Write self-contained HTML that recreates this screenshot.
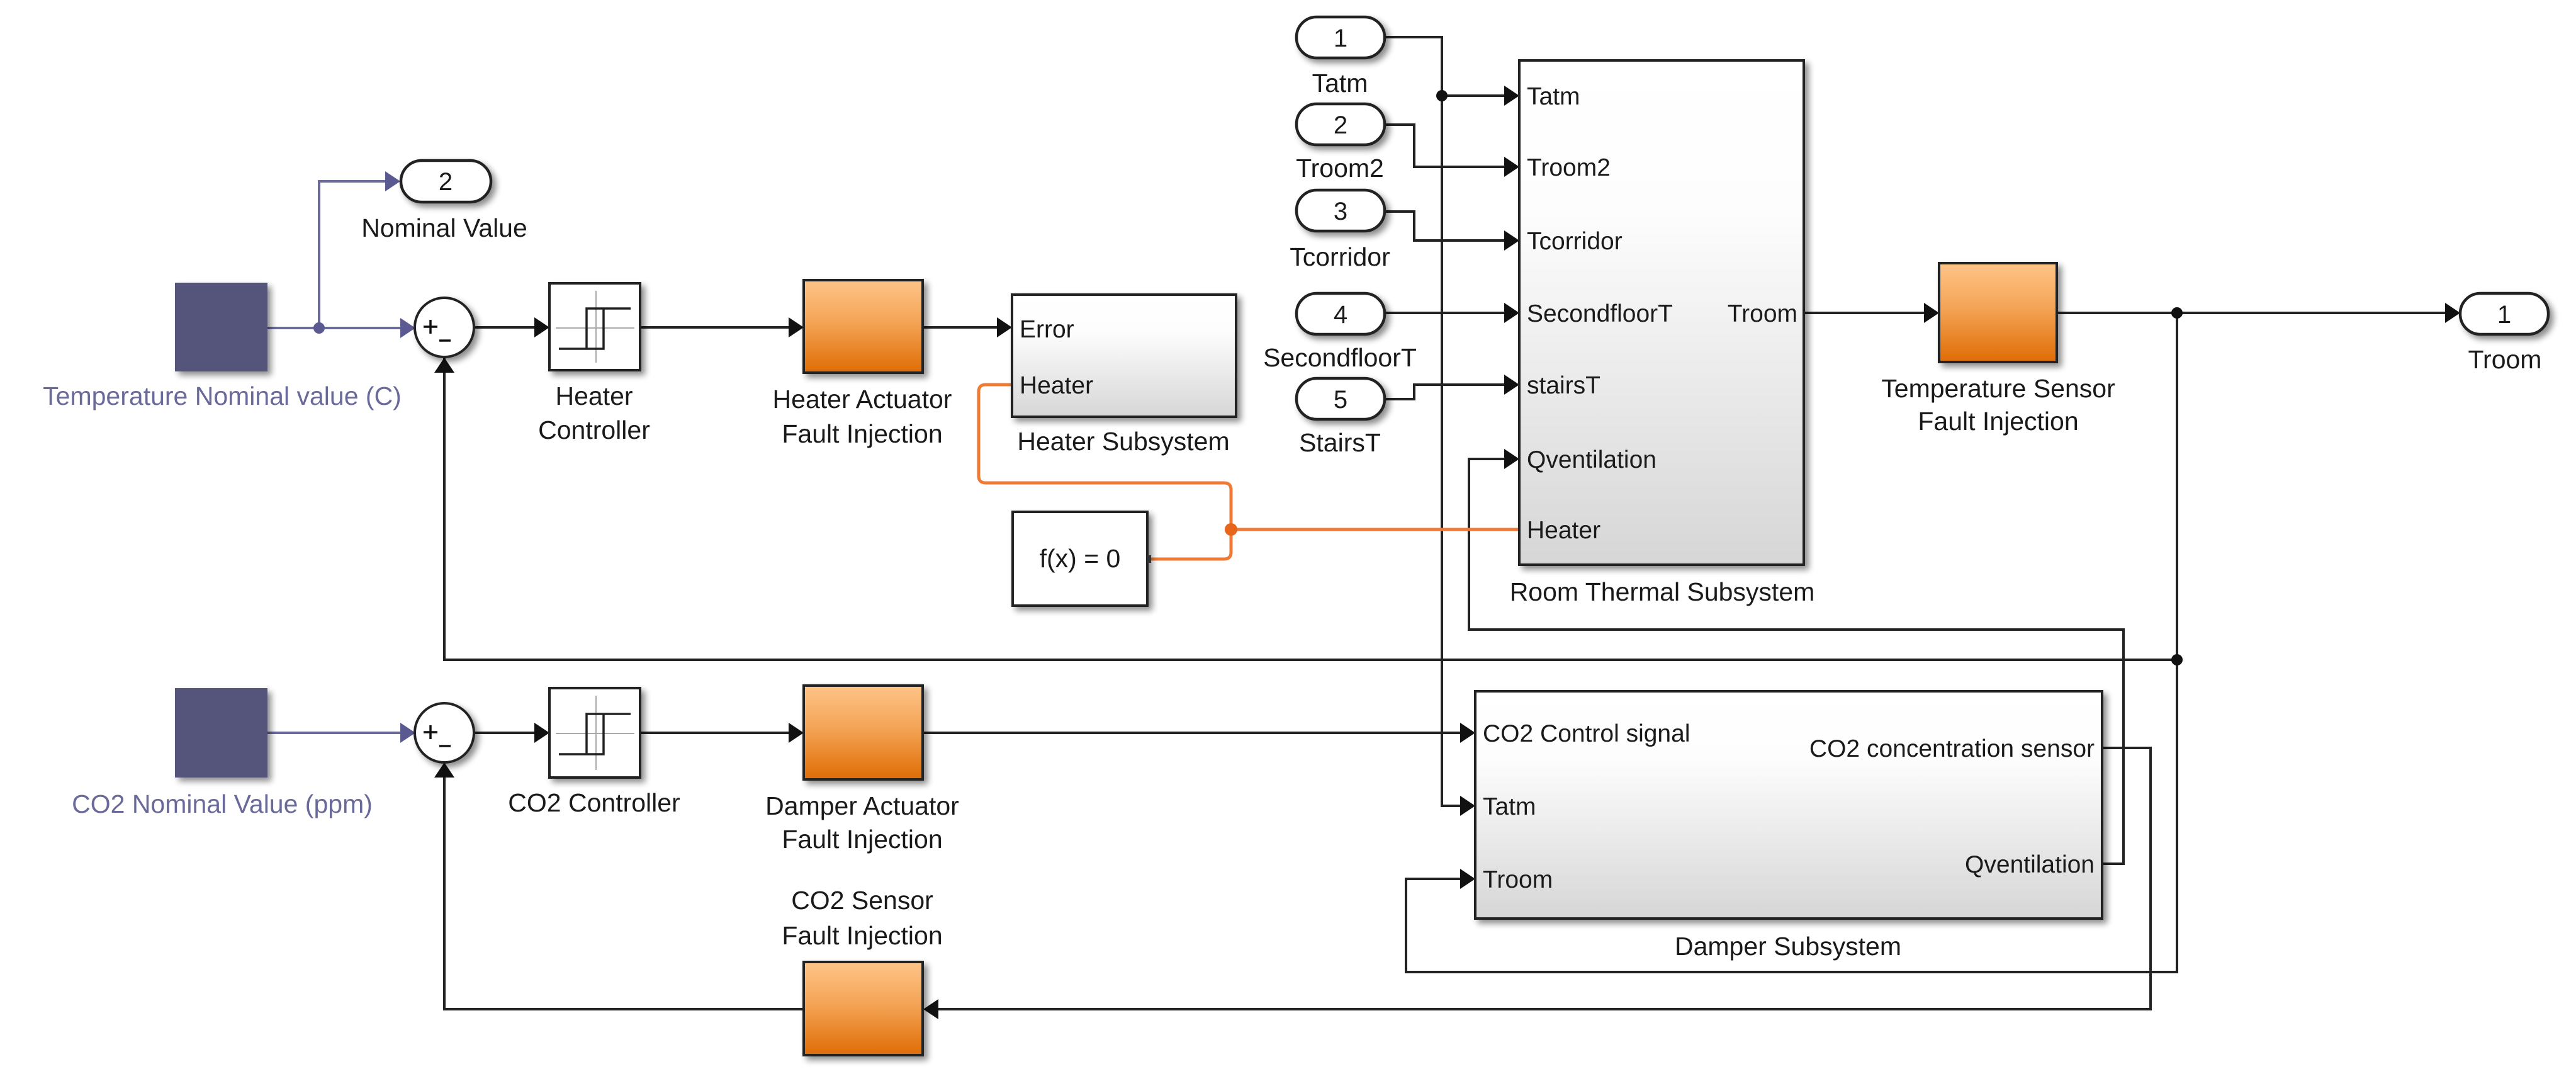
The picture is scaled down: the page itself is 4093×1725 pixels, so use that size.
<!DOCTYPE html>
<html><head><meta charset="utf-8"><style>
html,body{margin:0;padding:0;background:#fff;}
svg{display:block;}
text{font-family:"Liberation Sans",sans-serif;fill:#1a1a1a;}
</style></head><body>
<svg width="4093" height="1725" viewBox="0 0 4093 1725" xmlns="http://www.w3.org/2000/svg">
<defs>
<linearGradient id="og" x1="0" y1="0" x2="0" y2="1"><stop offset="0" stop-color="#fec488"/><stop offset="0.45" stop-color="#f4a456"/><stop offset="1" stop-color="#df6c05"/></linearGradient>
<linearGradient id="sg" x1="0" y1="0" x2="0" y2="1"><stop offset="0" stop-color="#ffffff"/><stop offset="0.3" stop-color="#fdfdfd"/><stop offset="1" stop-color="#d6d6d6"/></linearGradient>
<filter id="sh" x="-10%" y="-10%" width="130%" height="130%"><feGaussianBlur in="SourceAlpha" stdDeviation="5"/><feOffset dx="6" dy="6"/><feComponentTransfer><feFuncA type="linear" slope="0.45"/></feComponentTransfer><feMerge><feMergeNode/><feMergeNode in="SourceGraphic"/></feMerge></filter>
</defs>

<g stroke="#6b6b9b" stroke-width="4" fill="none">
<path d="M425 521 H640"/>
<path d="M507 521 V288 H615"/>
<path d="M425 1164 H640"/>
</g>
<g fill="#5a5a90">
<circle cx="507" cy="521" r="9"/>
<polygon points="636,288 612,272 612,304"/>
<polygon points="660,521 636,505 636,537"/>
<polygon points="660,1164 636,1148 636,1180"/>
</g>

<g stroke="#222" stroke-width="4" fill="none">
<path d="M755 520 H852"/>
<path d="M1017 520 H1256"/>
<path d="M1466 520 H1588"/>
<path d="M706 568 V1048 H3459"/>
<path d="M755 1164 H852"/>
<path d="M1017 1164 H1256"/>
<path d="M1466 1164 H2322"/>
<path d="M1277 1603 H706 V1230"/>
<path d="M2200 59 H2291 V1280 H2322"/>
<path d="M2291 152 H2392"/>
<path d="M2200 198 H2247 V265 H2392"/>
<path d="M2200 336 H2247 V382 H2392"/>
<path d="M2200 497 H2392"/>
<path d="M2200 634 H2247 V611 H2392"/>
<path d="M2868 497 H3060"/>
<path d="M3268 497 H3888"/>
<path d="M3459 497 V1544 H2234 V1396 H2322"/>
<path d="M3342 1372 H3374 V1000 H2334 V729 H2392"/>
<path d="M3342 1188 H3417 V1603 H1490"/>
</g>
<g fill="#111">
<circle cx="2291" cy="152" r="9"/>
<circle cx="3459" cy="497" r="9"/>
<circle cx="3459" cy="1048" r="9"/>
<polygon points="873,520 849,504 849,536"/>
<polygon points="1277,520 1253,504 1253,536"/>
<polygon points="1608,520 1584,504 1584,536"/>
<polygon points="706,568 690,592 722,592"/>
<polygon points="873,1164 849,1148 849,1180"/>
<polygon points="1277,1164 1253,1148 1253,1180"/>
<polygon points="706,1211 690,1235 722,1235"/>
<polygon points="1467,1603 1491,1587 1491,1619"/>
<polygon points="2414,152 2390,136 2390,168"/>
<polygon points="2414,265 2390,249 2390,281"/>
<polygon points="2414,382 2390,366 2390,398"/>
<polygon points="2414,497 2390,481 2390,513"/>
<polygon points="2414,611 2390,595 2390,627"/>
<polygon points="2414,729 2390,713 2390,745"/>
<polygon points="3081,497 3057,481 3057,513"/>
<polygon points="3909,497 3885,481 3885,513"/>
<polygon points="2344,1164 2320,1148 2320,1180"/>
<polygon points="2344,1280 2320,1264 2320,1296"/>
<polygon points="2344,1396 2320,1380 2320,1412"/>
</g>

<g stroke="#ee7a35" stroke-width="5" fill="none">
<path d="M1608 611 H1566 Q1555 611 1555 622 V756 Q1555 767 1566 767 H1945 Q1956 767 1956 778 V877 Q1956 888 1945 888 H1825"/>
<path d="M1956 841 H2414"/>
</g>
<circle cx="1956" cy="841" r="10" fill="#e8661c"/>

<rect x="278" y="449" width="147" height="141" fill="#54547c" filter="url(#sh)"/>
<rect x="278" y="1093" width="147" height="142" fill="#54547c" filter="url(#sh)"/>

<g filter="url(#sh)" stroke="#222" stroke-width="4">
<circle cx="706" cy="520" r="47" fill="#fff"/>
<circle cx="706" cy="1164" r="47" fill="#fff"/>
<rect x="873" y="450" width="144" height="138" fill="#fff"/>
<rect x="873" y="1093" width="144" height="142" fill="#fff"/>
<rect x="1277" y="445" width="189" height="147" fill="url(#og)"/>
<rect x="1277" y="1089" width="189" height="149" fill="url(#og)"/>
<rect x="1277" y="1528" width="189" height="148" fill="url(#og)"/>
<rect x="3081" y="418" width="187" height="157" fill="url(#og)"/>
<rect x="1608" y="468" width="356" height="194" fill="url(#sg)"/>
<rect x="1609" y="813" width="214" height="149" fill="#fff"/>
<rect x="2414" y="96" width="452" height="801" fill="url(#sg)"/>
<rect x="2344" y="1098" width="996" height="361" fill="url(#sg)"/>
</g>
<rect x="1823" y="882" width="6" height="12" fill="#333"/>

<g stroke="#111" stroke-width="3.5">
<path d="M673 519 H695 M684 508 V530"/>
<path d="M698 541 H716"/>
<path d="M673 1163 H695 M684 1152 V1174"/>
<path d="M698 1185 H716"/>
</g>

<g stroke="#aaa" stroke-width="2">
<path d="M947 462 V576 M883 521 H1008"/>
<path d="M947 1105 V1223 M883 1165 H1008"/>
</g>
<g stroke="#222" stroke-width="3.5" fill="none">
<path d="M888 554 H959 V490 H1002 M932 554 V490 H959"/>
<path d="M888 1198 H959 V1134 H1002 M932 1198 V1134 H959"/>
</g>

<g stroke="#222" stroke-width="4.5" fill="#fff" filter="url(#sh)">
<rect x="637" y="255" width="143" height="66" rx="33"/>
<rect x="2060" y="27" width="140" height="65" rx="32"/>
<rect x="2060" y="165" width="140" height="65" rx="32"/>
<rect x="2060" y="302" width="140" height="65" rx="32"/>
<rect x="2060" y="466" width="140" height="65" rx="32"/>
<rect x="2060" y="601" width="140" height="65" rx="32"/>
<rect x="3909" y="466" width="140" height="65" rx="32"/>
</g>
<g font-size="40" text-anchor="middle">
<text x="708" y="302">2</text>
<text x="2130" y="74">1</text>
<text x="2130" y="212">2</text>
<text x="2130" y="349">3</text>
<text x="2130" y="513">4</text>
<text x="2130" y="648">5</text>
<text x="3979" y="513">1</text>
</g>

<g font-size="41" text-anchor="middle">
<text x="706" y="376">Nominal Value</text>
<text x="353" y="643" style="fill:#6a6a9a">Temperature Nominal value (C)</text>
<text x="944" y="643">Heater</text>
<text x="944" y="697">Controller</text>
<text x="1370" y="648">Heater Actuator</text>
<text x="1370" y="703">Fault Injection</text>
<text x="1785" y="715">Heater Subsystem</text>
<text x="1716" y="901">f(x) = 0</text>
<text x="2129" y="146">Tatm</text>
<text x="2129" y="281">Troom2</text>
<text x="2129" y="422">Tcorridor</text>
<text x="2129" y="582">SecondfloorT</text>
<text x="2129" y="717">StairsT</text>
<text x="2641" y="954">Room Thermal Subsystem</text>
<text x="3175" y="631">Temperature Sensor</text>
<text x="3175" y="683">Fault Injection</text>
<text x="3980" y="585">Troom</text>
<text x="353" y="1291" style="fill:#6a6a9a">CO2 Nominal Value (ppm)</text>
<text x="944" y="1289">CO2 Controller</text>
<text x="1370" y="1294">Damper Actuator</text>
<text x="1370" y="1347">Fault Injection</text>
<text x="1370" y="1444">CO2 Sensor</text>
<text x="1370" y="1500">Fault Injection</text>
<text x="2841" y="1517">Damper Subsystem</text>
</g>
<g font-size="39">
<text x="1620" y="536">Error</text>
<text x="1620" y="625">Heater</text>
<text x="2426" y="166">Tatm</text>
<text x="2426" y="279">Troom2</text>
<text x="2426" y="396">Tcorridor</text>
<text x="2426" y="511">SecondfloorT</text>
<text x="2426" y="625">stairsT</text>
<text x="2426" y="743">Qventilation</text>
<text x="2426" y="855">Heater</text>
<text x="2856" y="511" text-anchor="end">Troom</text>
<text x="2356" y="1178">CO2 Control signal</text>
<text x="2356" y="1294">Tatm</text>
<text x="2356" y="1410">Troom</text>
<text x="3328" y="1202" text-anchor="end">CO2 concentration  sensor</text>
<text x="3328" y="1386" text-anchor="end">Qventilation</text>
</g>
</svg>
</body></html>
